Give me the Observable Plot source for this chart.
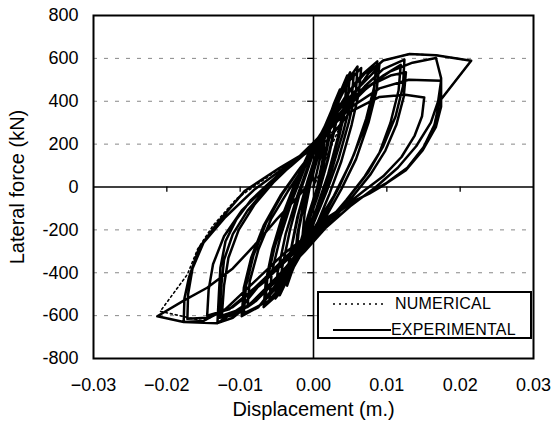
<!DOCTYPE html>
<html>
<head>
<meta charset="utf-8">
<script src="https://cdn.jsdelivr.net/npm/d3@7"></script>
<script src="https://cdn.jsdelivr.net/npm/@observablehq/plot@0.6"></script>
<style>
  html, body { margin: 0; padding: 0; background: #fff; }
  #wrap { position: relative; width: 551px; height: 435px; font-family: "Liberation Sans", Arial, sans-serif; }
  #legend { position: absolute; left: 317px; top: 291px; width: 211px; height: 44px; border: 2px solid #000; background: #fff; }
  #legend .row { position: absolute; left: 0; height: 20px; display: flex; align-items: center; font-size: 16px; letter-spacing: 0.2px; color: #000; }
</style>
</head>
<body>
<div id="wrap"></div>
<script>
// x tick values (m) and y tick values (kN)
const xTicks = [-0.03, -0.02, -0.01, 0, 0.01, 0.02, 0.03];
const yTicks = [-800, -600, -400, -200, 0, 200, 400, 600, 800];
const gridY = [-600, -400, -200, 200, 400, 600];
const seriesNames = ["NUMERICAL", "EXPERIMENTAL"];

// Experimental hysteresis, cycle by cycle: [displacement (m), lateral force (kN)]
const cyc1 = [[0,0],[0.0008,120],[0.0015,220],[0.0012,120],[0.0004,-20],[-0.0006,-130],[-0.0015,-230],[-0.0012,-120],[-0.0004,20],[0.0006,140]];
const cyc2 = [[0.0015,250],[0.0025,350],[0.0021,220],[0.001,40],[-0.0005,-120],[-0.0015,-240],[-0.0026,-360],[-0.0022,-220],[-0.0012,-50],[0.0002,110]];
const cyc2b = [[0.0012,240],[0.0022,330],[0.0019,210],[0.0008,30],[-0.0007,-130],[-0.0017,-250],[-0.0024,-340],[-0.002,-200],[-0.001,-30],[0.0004,130]];
const cyc3 = [[0.0015,260],[0.0028,390],[0.0036,455],[0.0032,320],[0.002,130],[0.0006,-40],[-0.001,-190],[-0.0025,-350],[-0.0036,-460],[-0.0033,-330],[-0.0022,-140],[-0.0008,30],[0.0006,180]];
const cyc3b = [[0.0012,230],[0.0025,360],[0.0034,430],[0.003,300],[0.0018,110],[0.0004,-60],[-0.0012,-210],[-0.0027,-360],[-0.0035,-440],[-0.0031,-300],[-0.002,-120],[-0.0006,50],[0.0008,190]];
const cyc4 = [[0.002,300],[0.0035,430],[0.0046,520],[0.0043,400],[0.0033,230],[0.002,60],[0.0004,-100],[-0.0015,-260],[-0.003,-390],[-0.0046,-505],[-0.0043,-380],[-0.0032,-200],[-0.0018,-20],[-0.0002,140]];
const cyc4b = [[0.0022,320],[0.0038,450],[0.005,535],[0.0047,420],[0.0036,250],[0.0022,80],[0.0006,-90],[-0.0012,-250],[-0.003,-400],[-0.0045,-490],[-0.0052,-520],[-0.0049,-400],[-0.0038,-220],[-0.0022,-40],[-0.0005,120]];
const cyc5 = [[0.0015,280],[0.003,400],[0.0045,490],[0.006,562],[0.0058,450],[0.0048,300],[0.0034,130],[0.0018,-20],[0,-170],[-0.002,-310],[-0.004,-430],[-0.0055,-510],[-0.0066,-546],[-0.0063,-430],[-0.0053,-280],[-0.0038,-120],[-0.002,30],[0,180]];
const cyc5b = [[0.0018,300],[0.0035,420],[0.005,500],[0.0065,555],[0.0062,440],[0.0052,290],[0.0038,120],[0.0022,-30],[0.0004,-180],[-0.0018,-320],[-0.0038,-440],[-0.0055,-520],[-0.0068,-560],[-0.0065,-440],[-0.0056,-290],[-0.0042,-130],[-0.0025,20],[-0.0005,170]];
const cyc6 = [[0.002,300],[0.004,440],[0.0055,530],[0.0052,410],[0.004,250],[0.0025,80],[0.0008,-80],[-0.001,-220],[-0.003,-370],[-0.0048,-480],[-0.006,-525],[-0.0057,-400],[-0.0045,-230],[-0.003,-70],[-0.0012,90],[0.0005,220]];
const cyc7 = [[0.0025,320],[0.0045,430],[0.0065,520],[0.0087,586],[0.0083,470],[0.0072,320],[0.0055,150],[0.0035,0],[0.001,-160],[-0.002,-310],[-0.005,-450],[-0.0075,-560],[-0.0098,-603],[-0.0095,-470],[-0.0085,-330],[-0.0068,-180],[-0.0045,-40],[-0.002,80],[0.001,210]];
const cyc7b = [[0.0028,330],[0.005,450],[0.007,530],[0.009,575],[0.0086,450],[0.0075,300],[0.0058,130],[0.0038,-10],[0.0012,-170],[-0.0018,-320],[-0.0048,-460],[-0.0072,-550],[-0.0095,-590],[-0.0092,-460],[-0.0082,-320],[-0.0065,-170],[-0.0042,-30],[-0.0018,90],[0.0012,220]];
const cyc8 = [[0.003,340],[0.0055,440],[0.0075,510],[0.0085,545],[0.0082,440],[0.007,280],[0.005,110],[0.0028,-40],[0.0003,-180],[-0.0025,-320],[-0.0055,-450],[-0.0078,-530],[-0.009,-560],[-0.0087,-440],[-0.0075,-290],[-0.0058,-150],[-0.0035,-20],[-0.001,110],[0.0015,230]];
const cyc9 = [[0.004,360],[0.007,470],[0.0095,550],[0.0124,594],[0.0122,470],[0.0112,330],[0.0095,190],[0.0075,70],[0.005,-40],[0.002,-160],[-0.0015,-290],[-0.005,-420],[-0.0085,-540],[-0.011,-610],[-0.0131,-635],[-0.0129,-500],[-0.0127,-378],[-0.012,-253],[-0.0105,-150],[-0.0085,-60],[-0.006,20],[-0.003,110],[0,200]];
const cyc9b = [[0.0045,380],[0.0075,470],[0.0105,520],[0.0126,535],[0.0123,420],[0.0113,290],[0.0098,170],[0.0078,60],[0.0052,-50],[0.0022,-170],[-0.0012,-300],[-0.0048,-430],[-0.0082,-540],[-0.0112,-600],[-0.0128,-610],[-0.0126,-470],[-0.0122,-340],[-0.011,-220],[-0.009,-110],[-0.0065,-10],[-0.0035,90],[-0.0005,190]];
const cyc10 = [[0.0035,330],[0.0065,440],[0.0095,520],[0.0119,570],[0.0116,450],[0.0105,300],[0.009,160],[0.007,50],[0.0045,-60],[0.0015,-180],[-0.002,-320],[-0.0055,-450],[-0.009,-560],[-0.0125,-600],[-0.0122,-460],[-0.0116,-330],[-0.0102,-200],[-0.008,-80],[-0.0055,20],[-0.0025,120],[0.0005,210]];
const cyc11 = [[0.004,350],[0.0075,470],[0.0105,540],[0.0135,580],[0.0167,602],[0.0174,508],[0.0174,375],[0.0167,281],[0.0149,172],[0.0126,78],[0.0099,16],[0.0076,-31],[0.0048,-78],[0.002,-140],[0,-205],[-0.003,-300],[-0.0065,-420],[-0.0098,-560],[-0.0131,-635],[-0.0177,-630],[-0.0176,-520],[-0.017,-424],[-0.0156,-284],[-0.0129,-159],[-0.0094,-19],[-0.0046,90],[0,183],[0.002,220]];
const cyc11b = [[0.005,350],[0.009,420],[0.0125,430],[0.0151,418],[0.0148,330],[0.0138,240],[0.012,140],[0.0095,50],[0.0068,-20],[0.0035,-110],[0,-220],[-0.004,-340],[-0.008,-470],[-0.0115,-570],[-0.0145,-600],[-0.0143,-480],[-0.0137,-360],[-0.0122,-230],[-0.0098,-110],[-0.0065,0],[-0.003,100],[0,190]];
const cyc12 = [[0.005,370],[0.009,460],[0.013,500],[0.0174,496],[0.017,400],[0.016,300],[0.014,190],[0.0115,90],[0.0085,0],[0.005,-90],[0.001,-210],[-0.003,-320],[-0.007,-450],[-0.011,-560],[-0.0145,-610],[-0.0172,-615],[-0.0171,-500],[-0.0165,-380],[-0.015,-260],[-0.012,-140],[-0.008,-10],[-0.004,90],[0,180]];
const cyc13 = [[0.003,300],[0.0055,430],[0.0075,530],[0.0095,590],[0.0131,620],[0.0167,615],[0.0215,589],[0.0172,400],[0.0165,290],[0.015,185],[0.0128,90],[0.01,20],[0.0075,-30],[0.0045,-90],[0,-205],[-0.004,-310],[-0.008,-440],[-0.012,-570],[-0.015,-625],[-0.0177,-630],[-0.0213,-603],[-0.0177,-530],[-0.0145,-470],[-0.011,-380],[-0.008,-270],[-0.005,-150],[-0.002,-40],[0,40]];

// Numerical model response: [displacement (m), lateral force (kN)]
const numerical = [[0,0],[0.0055,430],[0.0075,530],[0.0095,590],[0.0131,620],[0.0167,615],[0.0215,589],[0.0172,400],[0.0165,290],[0.015,185],[0.0128,90],[0.01,20],[0.0075,-30],[0.0045,-90],[0,-205],[-0.004,-310],[-0.008,-440],[-0.012,-570],[-0.015,-625],[-0.0209,-580],[-0.0172,-408],[-0.0158,-290],[-0.0137,-180],[-0.0105,-55],[-0.0055,65],[0,180],[0.004,300]];

const experimental = [cyc1,cyc2,cyc2b,cyc3,cyc3b,cyc4,cyc4b,cyc5,cyc5b,cyc6,cyc7,cyc7b,cyc8,cyc9,cyc9b,cyc10,cyc11,cyc11b,cyc12,cyc13].flat();

const toRows = arr => arr.map(([d, f]) => ({d, f}));

const chart = Plot.plot({
  width: 551,
  height: 435,
  marginLeft: 93,
  marginRight: 18,
  marginTop: 15,
  marginBottom: 77,
  style: {fontFamily: "'Liberation Sans', Arial, sans-serif", fontSize: "18px", color: "#000", background: "#fff"},
  x: {domain: [-0.03, 0.03], ticks: xTicks, tickFormat: d3.format(".2f"), tickSize: 0, tickPadding: 20, label: null},
  y: {domain: [-800, 800], ticks: yTicks, tickFormat: d => String(d).replace("\u2212", "-"), tickSize: 0, tickPadding: 15, label: null},
  marks: [
    Plot.ruleY(gridY, {stroke: "#888", strokeWidth: 1, strokeDasharray: "4,7"}),
    Plot.ruleY([0], {stroke: "#000", strokeWidth: 1.6}),
    Plot.ruleX([0], {stroke: "#000", strokeWidth: 1.6}),
    Plot.ruleY(yTicks.filter(v => Math.abs(v) < 800 && v !== 0), {x1: -0.0008, x2: 0, stroke: "#000", strokeWidth: 1.3}),
    Plot.ruleX(xTicks.filter(v => Math.abs(v) < 0.03 && v !== 0), {y1: 0, y2: -25, stroke: "#000", strokeWidth: 1.3}),
    Plot.line(toRows(numerical), {x: "d", y: "f", stroke: "#000", strokeWidth: 1.6, strokeDasharray: "2,3"}),
    Plot.line(toRows(experimental), {x: "d", y: "f", stroke: "#000", strokeWidth: 2.5, strokeLinejoin: "round"}),
    Plot.frame({stroke: "#000", strokeWidth: 2}),
    Plot.text(["Displacement (m.)"], {frameAnchor: "bottom", dy: 57, fontSize: 20, fill: "#000", style: "letter-spacing:0.4px"}),
    Plot.text(["Lateral force (kN)"], {frameAnchor: "left", textAnchor: "middle", dx: -76, rotate: -90, fontSize: 20, fill: "#000"})
  ]
});

const wrap = document.getElementById("wrap");
wrap.appendChild(chart);

const legend = document.createElement("div");
legend.id = "legend";
legend.innerHTML = `
  <div class="row" style="top:1px;">
    <svg width="76" height="20" style="display:block"><line x1="14" x2="66" y1="10" y2="10" stroke="#000" stroke-width="1.6" stroke-dasharray="2,4"/></svg>
    <span>${seriesNames[0]}</span>
  </div>
  <div class="row" style="top:27px;">
    <svg width="72" height="20" style="display:block"><line x1="14" x2="72" y1="10" y2="10" stroke="#000" stroke-width="2"/></svg>
    <span>${seriesNames[1]}</span>
  </div>`;
wrap.appendChild(legend);
</script>
</body>
</html>
